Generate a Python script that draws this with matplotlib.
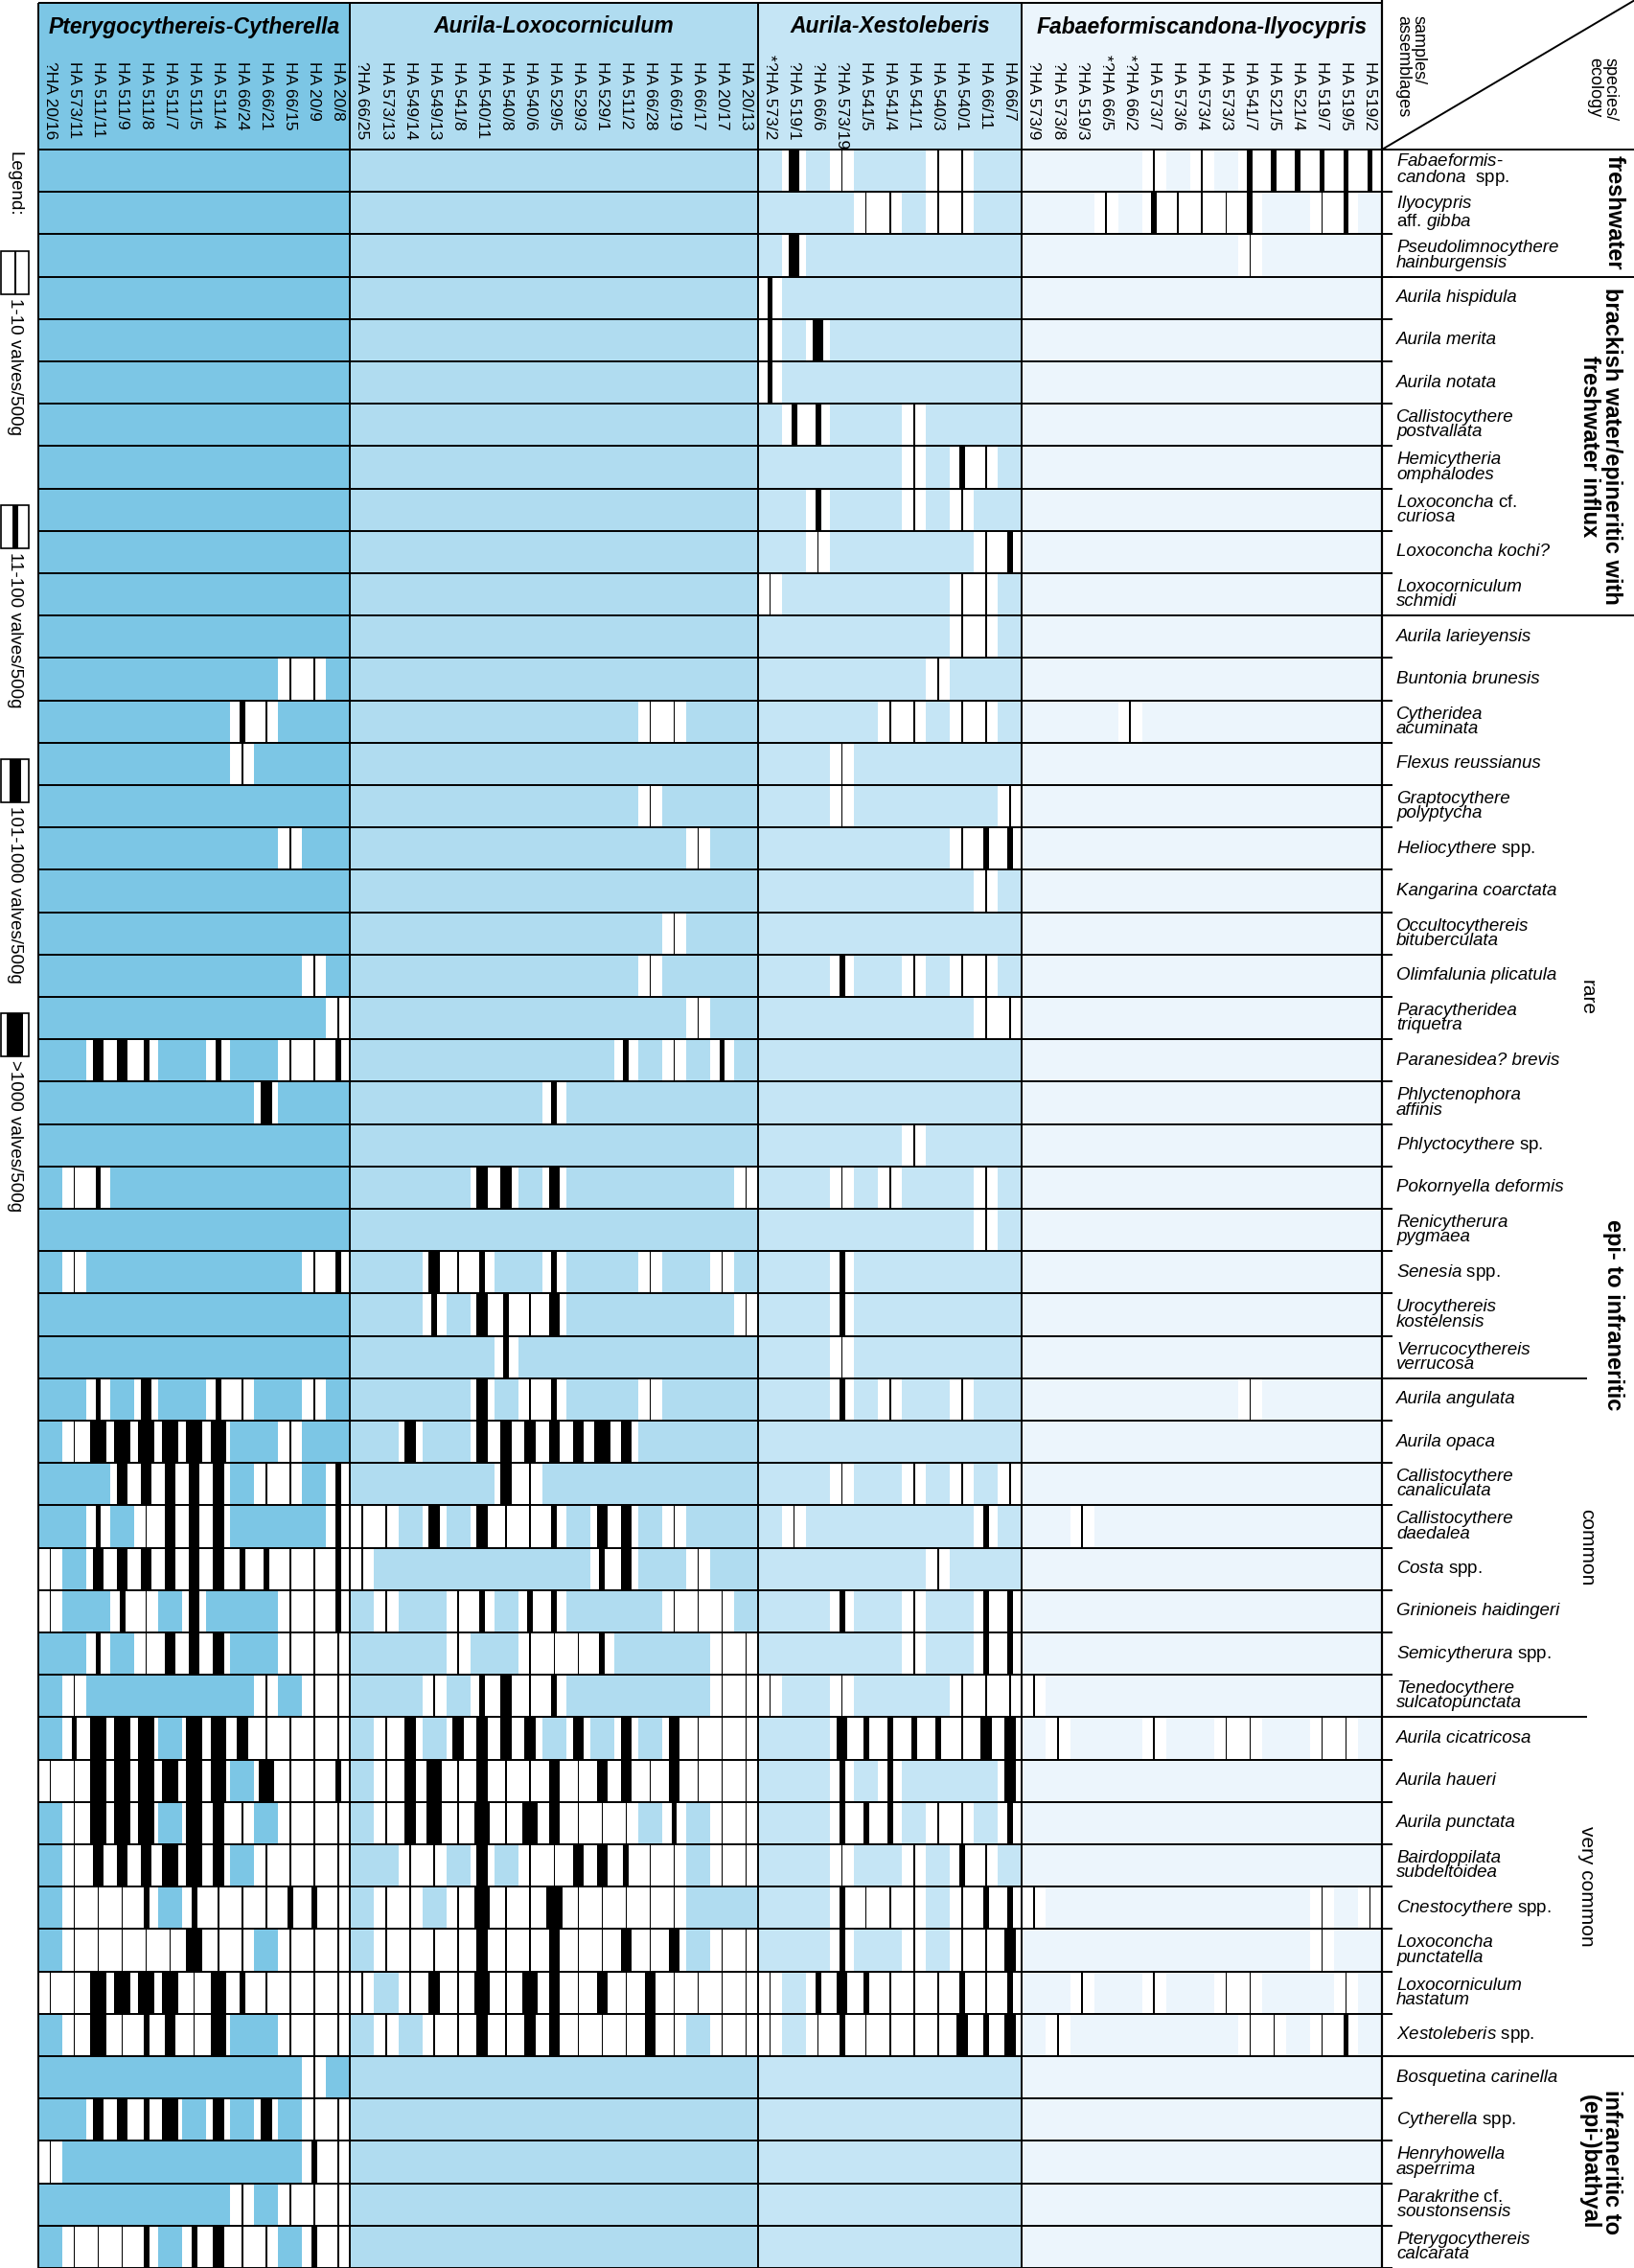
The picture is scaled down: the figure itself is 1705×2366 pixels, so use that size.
import numpy as np
import matplotlib.pyplot as plt

plt.rcParams['font.family'] = ['Liberation Sans', 'DejaVu Sans']
plt.rcParams['mathtext.fontset'] = 'custom'
plt.rcParams['mathtext.it'] = 'Liberation Sans:italic'
plt.rcParams['mathtext.rm'] = 'Liberation Sans'

W, H = 1706, 2366

assemblages = ['Pterygocythereis-Cytherella', 'Aurila-Loxocorniculum',
               'Aurila-Xestoleberis', 'Fabaeformiscandona-Ilyocypris']
assemblage_colours = ['#7cc6e5', '#b0dcf0', '#c5e5f5', '#ecf5fc']

samples_pc = ['?HA 20/16', 'HA 573/11', 'HA 511/11', 'HA 511/9', 'HA 511/8', 'HA 511/7',
              'HA 511/5', 'HA 511/4', 'HA 66/24', 'HA 66/21', 'HA 66/15', 'HA 20/9', 'HA 20/8']
samples_al = ['?HA 66/25', 'HA 573/13', 'HA 549/14', 'HA 549/13', 'HA 541/8', 'HA 540/11',
              'HA 540/8', 'HA 540/6', 'HA 529/5', 'HA 529/3', 'HA 529/1', 'HA 511/2',
              'HA 66/28', 'HA 66/19', 'HA 66/17', 'HA 20/17', 'HA 20/13']
samples_ax = ['*?HA 573/2', '?HA 519/1', '?HA 66/6', '?HA 573/19', 'HA 541/5', 'HA 541/4',
              'HA 541/1', 'HA 540/3', 'HA 540/1', 'HA 66/11', 'HA 66/7']
samples_fi = ['?HA 573/9', '?HA 573/8', '?HA 519/3', '*?HA 66/5', '*?HA 66/2', 'HA 573/7',
              'HA 573/6', 'HA 573/4', 'HA 573/3', 'HA 541/7', 'HA 521/5', 'HA 521/4',
              'HA 519/7', 'HA 519/5', 'HA 519/2']

species = [
    'Fabaeformis-\ncandona  spp.', 'Ilyocypris\naff. gibba', 'Pseudolimnocythere\nhainburgensis',
    'Aurila hispidula', 'Aurila merita', 'Aurila notata', 'Callistocythere\npostvallata',
    'Hemicytheria\nomphalodes', 'Loxoconcha cf.\ncuriosa', 'Loxoconcha kochi?',
    'Loxocorniculum\nschmidi', 'Aurila larieyensis', 'Buntonia brunesis', 'Cytheridea\nacuminata',
    'Flexus reussianus', 'Graptocythere\npolyptycha', 'Heliocythere spp.', 'Kangarina coarctata',
    'Occultocythereis\nbituberculata', 'Olimfalunia plicatula', 'Paracytheridea\ntriquetra',
    'Paranesidea? brevis', 'Phlyctenophora\naffinis', 'Phlyctocythere sp.', 'Pokornyella deformis',
    'Renicytherura\npygmaea', 'Senesia spp.', 'Urocythereis\nkostelensis',
    'Verrucocythereis\nverrucosa', 'Aurila angulata', 'Aurila opaca',
    'Callistocythere\ncanaliculata', 'Callistocythere\ndaedalea', 'Costa spp.',
    'Grinioneis haidingeri', 'Semicytherura spp.', 'Tenedocythere\nsulcatopunctata',
    'Aurila cicatricosa', 'Aurila haueri', 'Aurila punctata', 'Bairdoppilata\nsubdeltoidea',
    'Cnestocythere spp.', 'Loxoconcha\npunctatella', 'Loxocorniculum\nhastatum',
    'Xestoleberis spp.', 'Bosquetina carinella', 'Cytherella spp.', 'Henryhowella\nasperrima',
    'Parakrithe cf.\nsoustonsensis', 'Pterygocythereis\ncalcarata',
]

# abundance class per sample: 0 absent, 1: 1-10, 2: 11-100, 3: 101-1000, 4: >1000 valves/500g
abund_pc = [
    '0000000000000', '0000000000000', '0000000000000', '0000000000000', '0000000000000',
    '0000000000000', '0000000000000', '0000000000000', '0000000000000', '0000000000000',
    '0000000000000', '0000000000000', '0000000000110', '0000000021000', '0000000010000',
    '0000000000000', '0000000000100', '0000000000000', '0000000000000', '0000000000010',
    '0000000000001', '0033200200112', '0000000003000', '0000000000000', '0120000000000',
    '0000000000000', '0100000000012', '0000000000000', '0000000000000', '0020300210010',
    '0144444400100', '0003333301102', '0020133300002', '1033333322112', '1002103000112',
    '0020133300111', '0100000001011', '0244404431111', '1144444404112', '0144404310111',
    '0133344301111', '0111202111221', '0111114110111', '1144441421111', '0141231400111',
    '0000000000010', '0033240303011', '1000000000021', '0000000010111', '0111202311021',
]
abund_al = [
    '00000000000000000', '00000000000000000', '00000000000000000', '00000000000000000',
    '00000000000000000', '00000000000000000', '00000000000000000', '00000000000000000',
    '00000000000000000', '00000000000000000', '00000000000000000', '00000000000000000',
    '00000000000000000', '00000000000011000', '00000000000000000', '00000000000010000',
    '00000000000000100', '00000000000000000', '00000000000001000', '00000000000010000',
    '00000000000000100', '00000000000201020', '00000000200000000', '00000000000000000',
    '00000330300000001', '00000000000000000', '00031200200010010', '00020321300000001',
    '00000020000000000', '00000301200010000', '00300333334300000', '00000031000000000',
    '11030311203301000', '10000000002300100', '01001202200001110', '00001001112000011',
    '00010231200000011', '01303333030303111', '01341311313313111', '01341414311102011',
    '00110301133211011', '01101411411111000', '01111311311313011', '10131414313131111',
    '01011313311131011', '00000000000000000', '00000000000000000', '00000000000000000',
    '00000000000000000', '00000000000000000',
]
abund_ax = [
    '03010001100', '00001101100', '03000000000', '20000000000', '20300000000',
    '20000000000', '02200010000', '00000010210', '00200010100', '00100000012',
    '10000000110', '00000000110', '00000001000', '00000110110', '00010000000',
    '00010000001', '00000000122', '00000000010', '00000000000', '00020010110',
    '00000000011', '00000000000', '00000000000', '00000010000', '00010100010',
    '00000000010', '00020000000', '00020000000', '00010000000', '00020100100',
    '00000000000', '00010010101', '01000000020', '00000001000', '00020010022',
    '00000010022', '10010000111', '00032222133', '00020200003', '00022201102',
    '00010010210', '00021110122', '00020010113', '10232111212', '10121111323',
    '00000000000', '00000000000', '00000000000', '00000000000', '00000000000',
]
abund_fi = ['000000000000000'] * 50
abund_fi[0] = '000001010222222'
abund_fi[1] = '000102111200120'
abund_fi[2] = '000000000100000'
abund_fi[13] = '000010000000000'
abund_fi[29] = '000000000100000'
abund_fi[32] = '001000000000000'
abund_fi[36] = '100000000000000'
abund_fi[37] = '010001001100110'
abund_fi[41] = '100000000000101'
abund_fi[42] = '000000000000100'
abund_fi[43] = '001001001100010'
abund_fi[44] = '010000000110120'

ecology = [('freshwater', 0, 3), ('brackish water/epineritic with\nfreshwater influx', 3, 11),
           ('epi- to infraneritic', 11, 45), ('infraneritic to\n(epi-)bathyal', 45, 50)]
frequency = [('rare', 11, 29), ('common', 29, 37), ('very common', 37, 45)]
legend_labels = ['1-10 valves/500g', '11-100 valves/500g', '101-1000 valves/500g', '>1000 valves/500g']

bar_w = {1: 0.06, 2: 0.23, 3: 0.46, 4: 0.66}
UPRIGHT = {'spp.', 'sp.', 'cf.', 'aff.'}


def species_label(name):
    if not UPRIGHT & set(name.replace('\n', ' ').split(' ')):
        return name, 'italic'
    lines = []
    for line in name.split('\n'):
        parts = []
        for w in line.split(' '):
            if w == '' or w in UPRIGHT:
                parts.append(w)
            elif w.endswith('-'):
                parts.append(r'$\mathit{%s}$-' % w[:-1])
            else:
                parts.append(r'$\mathit{%s}$' % w)
        lines.append(' '.join(parts))
    return '\n'.join(lines), 'normal'


groups = [(samples_pc, abund_pc), (samples_al, abund_al), (samples_ax, abund_ax), (samples_fi, abund_fi)]
n_cols = sum(len(g[0]) for g in groups)
n_rows = len(species)

X0, X1, Y0 = 40, 1442, 156
COL_PX = (X1 - X0) / n_cols
ROW_PX = (H - Y0) / n_rows


def cx(px):
    return (px - X0) / COL_PX


def ry(px):
    return (px - Y0) / ROW_PX


fig = plt.figure(figsize=(W / 100, H / 100), dpi=100)
lay = fig.add_axes([0, 0, 1, 1])
lay.set_xlim(0, W)
lay.set_ylim(H, 0)
lay.axis('off')

ax = fig.add_axes([X0 / W, 0, (X1 - X0) / W, (H - Y0) / H])
ax.set_xlim(0, n_cols)
ax.set_ylim(n_rows, 0)
ax.axis('off')

head_top = ry(3)
start = 0
bounds = [0]
for (samples, abund), title, colour in zip(groups, assemblages, assemblage_colours):
    n = len(samples)
    ax.bar(start + n / 2, n_rows - head_top, bottom=head_top, width=n, color=colour,
           linewidth=0, clip_on=False)
    ax.text(start + n / 2, ry(28), title, ha='center', va='center', fontsize=16.5,
            fontweight='bold', fontstyle='italic', clip_on=False)
    for k, lab in enumerate(samples):
        stars = lab[:len(lab) - len(lab.lstrip('*'))]
        ax.text(start + k + 0.5, ry(64), lab.lstrip('*'), rotation=270, ha='center', va='top',
                fontsize=12.5, clip_on=False)
        if stars:
            ax.text(start + k + 0.5, ry(64), stars, rotation=270, ha='center', va='bottom',
                    fontsize=12.5, clip_on=False)
    xs, ys, vs = [], [], []
    for i, row in enumerate(abund):
        for k, ch in enumerate(row):
            if ch != '0':
                xs.append(start + k + 0.5)
                ys.append(i)
                vs.append(int(ch))
    xs, ys, vs = np.array(xs), np.array(ys), np.array(vs)
    if len(xs):
        ax.bar(xs, 1, bottom=ys, width=1.0, color='white', linewidth=0)
        for v, w in bar_w.items():
            m = vs == v
            if m.any():
                ax.bar(xs[m], 1, bottom=ys[m], width=w, color='black', linewidth=0)
    start += n
    bounds.append(start)

# grid lines
ax.hlines(np.arange(n_rows + 1), 0, cx(1453), colors='black', lw=1.4, clip_on=False)
ax.hlines(head_top, 0, n_cols, colors='black', lw=1.4, clip_on=False)
ax.vlines(bounds[:-1], head_top, n_rows, colors='black', lw=1.4, clip_on=False)
ax.vlines(n_cols, ry(0), n_rows, colors='black', lw=1.6, clip_on=False)
ax.hlines([0, 3, 11, 45], n_cols, cx(W), colors='black', lw=1.4, clip_on=False)
ax.hlines([29, 37], n_cols, cx(1656), colors='black', lw=1.4, clip_on=False)
ax.plot([n_cols, cx(W)], [0, ry(0)], color='black', lw=1.4, clip_on=False)

# species names
for i, name in enumerate(species):
    label, style = species_label(name)
    ax.text(cx(1457), i + 0.5, label, ha='left', va='center', fontsize=13.5,
            fontstyle=style, linespacing=0.85, clip_on=False)

# ecology
for label, a, b in ecology:
    xpx = 1670 if '\n' in label else 1684
    ax.text(cx(xpx), (a + b) / 2 - (0.5 if a == 11 else 0), label, rotation=270, ha='center',
            va='center', fontsize=17, fontweight='bold', multialignment='center',
            linespacing=1.0, clip_on=False)
for label, a, b in frequency:
    ax.text(cx(1656), (a + b) / 2, label, rotation=270, ha='center', va='center',
            fontsize=15, clip_on=False)

lay.text(1472, 16, 'samples/\nassemblages', rotation=270, ha='center', va='top',
         fontsize=13, linespacing=0.9, multialignment='left')
lay.text(1672, 60, 'species/\necology', rotation=270, ha='center', va='top',
         fontsize=13, linespacing=0.9, multialignment='left')

# legend
lay.text(15, 158, 'Legend:', rotation=270, ha='center', va='top', fontsize=13.5)
for k, (lab, v) in enumerate(zip(legend_labels, [1, 2, 3, 4])):
    top = 262 + 265 * k
    lay.add_patch(plt.Rectangle((1.5, top), 28.5, 45, facecolor='white', edgecolor='black', lw=1.2))
    bw = bar_w[v] * COL_PX
    lay.add_patch(plt.Rectangle((15.75 - bw / 2, top), bw, 45, facecolor='black', lw=0))
    lay.text(15, top + 49, lab, rotation=270, ha='center', va='top', fontsize=13.5)

fig.savefig('out.png', dpi=100)
